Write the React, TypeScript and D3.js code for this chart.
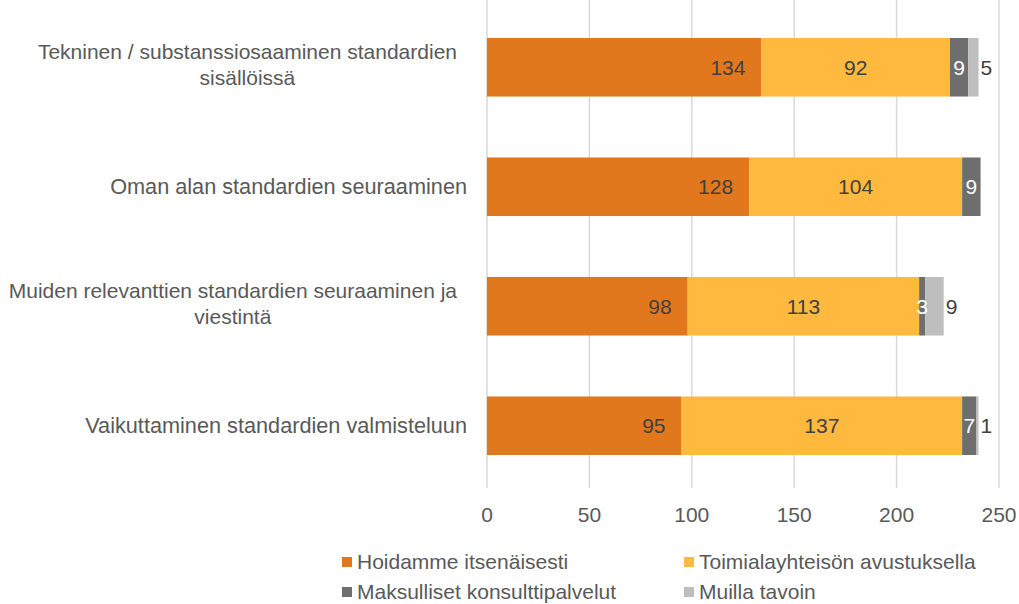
import React, { useEffect, useRef } from 'react';
import * as d3 from 'd3';

// category labels, already wrapped the way the chart shows them
const categories = [
  ['Tekninen / substanssiosaaminen standardien', 'sisällöissä'],
  ['Oman alan standardien seuraaminen'],
  ['Muiden relevanttien standardien seuraaminen ja', 'viestintä'],
  ['Vaikuttaminen standardien valmisteluun'],
];
const seriesNames = [
  'Hoidamme itsenäisesti',
  'Toimialayhteisön avustuksella',
  'Maksulliset konsulttipalvelut',
  'Muilla tavoin',
];
const hoidamme = [134, 128, 98, 95];
const toimiala = [92, 104, 113, 137];
const maksulliset = [9, 9, 3, 7];
const muilla = [5, 0, 9, 1];
const xTicks = [0, 50, 100, 150, 200, 250];

const colors = ['#E2781E', '#FFB93E', '#6E6E6E', '#BEBEBE'];
const FONT = '"Liberation Sans", Arial, sans-serif';

const App = () => {
  const svgRef = useRef<SVGSVGElement>(null);

  useEffect(() => {
    const w = 1019;
    const h = 604;
    const svg = d3.select(svgRef.current).attr('width', w).attr('height', h);
    svg.selectAll('*').remove();

    const x = d3.scaleLinear().domain([0, 250]).range([487, 999]);
    const y = d3
      .scaleBand<number>()
      .domain(d3.range(categories.length))
      .range([5, 488])
      .paddingInner(0.51)
      .paddingOuter(0.276);

    const series = [hoidamme, toimiala, maksulliset, muilla];
    const rows = categories.map((_, i) => {
      let acc = 0;
      return series.map((s) => {
        const seg = { x0: acc, x1: acc + s[i], v: s[i] };
        acc += s[i];
        return seg;
      });
    });

    // gridlines
    svg
      .append('g')
      .selectAll('line')
      .data(xTicks)
      .join('line')
      .attr('x1', (d) => x(d))
      .attr('x2', (d) => x(d))
      .attr('y1', 0)
      .attr('y2', 488)
      .attr('stroke', '#D9D9D9')
      .attr('stroke-width', 1.5);

    svg
      .append('g')
      .selectAll('text')
      .data(xTicks)
      .join('text')
      .attr('x', (d) => x(d))
      .attr('y', 522)
      .attr('text-anchor', 'middle')
      .style('font-family', FONT)
      .style('font-size', '21px')
      .attr('fill', '#595959')
      .text((d) => d);

    // bars
    rows.forEach((segs, i) => {
      const g = svg.append('g');
      const cy = y(i)! + y.bandwidth() / 2;
      g.selectAll('rect')
        .data(segs)
        .join('rect')
        .attr('x', (d) => x(d.x0))
        .attr('width', (d) => x(d.x1) - x(d.x0))
        .attr('y', y(i)!)
        .attr('height', y.bandwidth())
        .attr('fill', (_, k) => colors[k]);

      const labelX = (d: any, k: number) => {
        if (k === 0) return x(d.x1) - 16;
        if (k === 3) return x(d.x1) + 2;
        return (x(d.x0) + x(d.x1)) / 2;
      };
      g.selectAll('text')
        .data(segs)
        .join('text')
        .filter((d) => d.v > 0)
        .attr('x', (d, k) => labelX(d, k))
        .attr('y', cy)
        .attr('dy', '0.35em')
        .attr('text-anchor', (_, k) => (k === 0 ? 'end' : k === 3 ? 'start' : 'middle'))
        .style('font-family', FONT)
        .style('font-size', '21px')
        .attr('fill', (_, k) => (k === 2 ? '#FFFFFF' : '#404040'))
        .text((d) => d.v);
    });

    // category labels
    const right = 467;
    categories.forEach((lines, i) => {
      const cy = y(i)! + y.bandwidth() / 2;
      const g = svg
        .append('g')
        .style('font-family', FONT)
        .style('font-size', lines.length > 1 ? '21px' : '21.7px')
        .attr('fill', '#595959');
      const texts = g
        .selectAll('text')
        .data(lines)
        .join('text')
        .attr('y', (_, k) => cy - 3 - ((lines.length - 1) * 26) / 2 + k * 26)
        .attr('dy', '0.35em')
        .text((d) => d);
      if (lines.length === 1) {
        texts.attr('x', right).attr('text-anchor', 'end').attr('y', cy);
      } else {
        let maxW = 0;
        texts.each(function () {
          maxW = Math.max(maxW, (this as SVGTextElement).getComputedTextLength());
        });
        const cx = right - 10 - maxW / 2;
        texts.attr('x', cx).attr('text-anchor', 'middle');
      }
    });

    // legend
    const legX = [342, 684];
    const legY = [562, 592];
    const leg = svg
      .append('g')
      .selectAll('g')
      .data(seriesNames)
      .join('g')
      .attr('transform', (_, k) => `translate(${legX[k % 2]},${legY[Math.floor(k / 2)]})`);
    leg
      .append('rect')
      .attr('x', 0)
      .attr('y', -5)
      .attr('width', 10)
      .attr('height', 10)
      .attr('fill', (_, k) => colors[k]);
    leg
      .append('text')
      .attr('x', 15)
      .attr('y', 0)
      .attr('dy', '0.35em')
      .style('font-family', FONT)
      .style('font-size', '21px')
      .attr('fill', '#595959')
      .text((d) => d);
  }, []);

  return (
    <div style={{ position: 'fixed', left: 0, top: 0 }}>
      <svg ref={svgRef} style={{ display: 'block', background: '#fff' }}></svg>
    </div>
  );
};

export default App;
